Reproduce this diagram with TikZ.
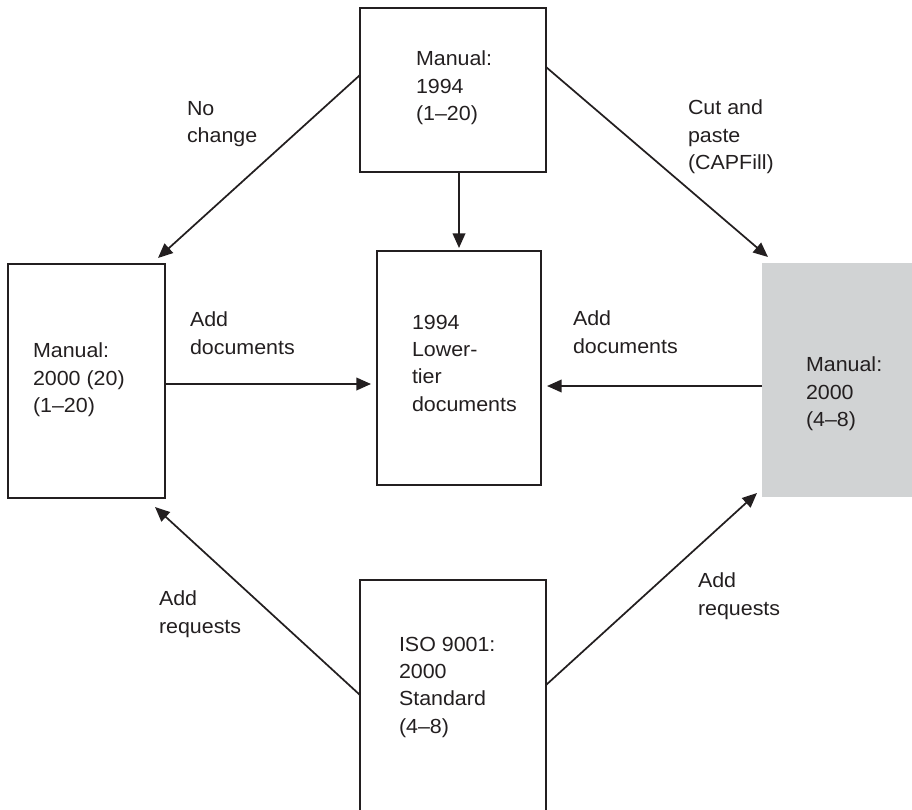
\documentclass[tikz,border=0pt]{standalone}
\usepackage{fontspec}
\setmainfont{Liberation Sans}[FakeStretch=1.05]
\usetikzlibrary{arrows.meta}
\newdimen\pxu
\pxu=0.75pt
\definecolor{boxgray}{HTML}{D1D3D4}
\definecolor{ink}{HTML}{231F20}
\tikzset{
  box/.style={draw=ink, line width=1.8pt, inner sep=0pt, outer sep=0pt},
  shadebox/.style={fill=boxgray, draw=none, inner sep=0pt, outer sep=0pt},
  txt/.style={anchor=north west, inner sep=0pt, outer sep=0pt, align=left,
    text=ink, font=\fontsize{15.3}{20.5}\selectfont},
  arr/.style={draw=ink, line width=1.3pt, -{Triangle[length=11pt, width=9.5pt]}}
}
\begin{document}
\begin{tikzpicture}[x=0.75pt, y=-0.75pt]
  \useasboundingbox (0,0) rectangle (912,809);

  % boxes
  \node[box, minimum width=186\pxu, minimum height=164\pxu] (t) at (453,90) {};
  \node[box, minimum width=164\pxu, minimum height=234\pxu] (c) at (459,368) {};
  \node[box, minimum width=157\pxu, minimum height=234\pxu] (l) at (86.5,381) {};
  \node[shadebox, minimum width=152\pxu, minimum height=234\pxu] (g) at (838,380) {};
  \node[box, minimum width=186\pxu, minimum height=250\pxu] (b) at (453,705) {};

  % box texts
  \node[txt] (tt) at (416,51) {Manual:\\1994\\(1--20)};
  \node[txt] (ct) at (412,315) {1994\\Lower-\\tier\\documents};
  \node[txt] (lt) at (33,343) {Manual:\\2000 (20)\\(1--20)};
  \node[txt] (gt) at (806,357) {Manual:\\2000\\(4--8)};
  \node[txt] (bt) at (399,637) {ISO 9001:\\2000\\Standard\\(4--8)};

  % connector labels
  \node[txt] (nochg) at (187,101) {No\\change};
  \node[txt] (cut)   at (688,100) {Cut and\\paste\\(CAPFill)};
  \node[txt] (addl)  at (190,312) {Add\\documents};
  \node[txt] (addr)  at (573,311) {Add\\documents};
  \node[txt] (reql)  at (159,591) {Add\\requests};
  \node[txt] (reqr)  at (698,573) {Add\\requests};

  % connectors
  \draw[arr, shorten >=3\pxu] (c.north |- t.south) -- (c.north);
  \draw[arr] ([shift={(0,-15)}]t.west) -- ([shift={(-7,-6)}]l.north east);
  \draw[arr] ([shift={(0,-23)}]t.east) -- ([shift={(6,-6)}]g.north west);
  \draw[arr, shorten >=6\pxu] ([shift={(0,3)}]l.east) coordinate (la) -- (la -| c.west);
  \draw[arr, shorten >=6\pxu] ([shift={(0,6)}]g.west) coordinate (ga) -- (ga -| c.east);
  \draw[arr] ([shift={(0,-10)}]b.west) -- ([shift={(-10,9)}]l.south east);
  \draw[arr] ([shift={(0,-20)}]b.east) -- ([shift={(-5,-4)}]g.south west);
\end{tikzpicture}
\end{document}
